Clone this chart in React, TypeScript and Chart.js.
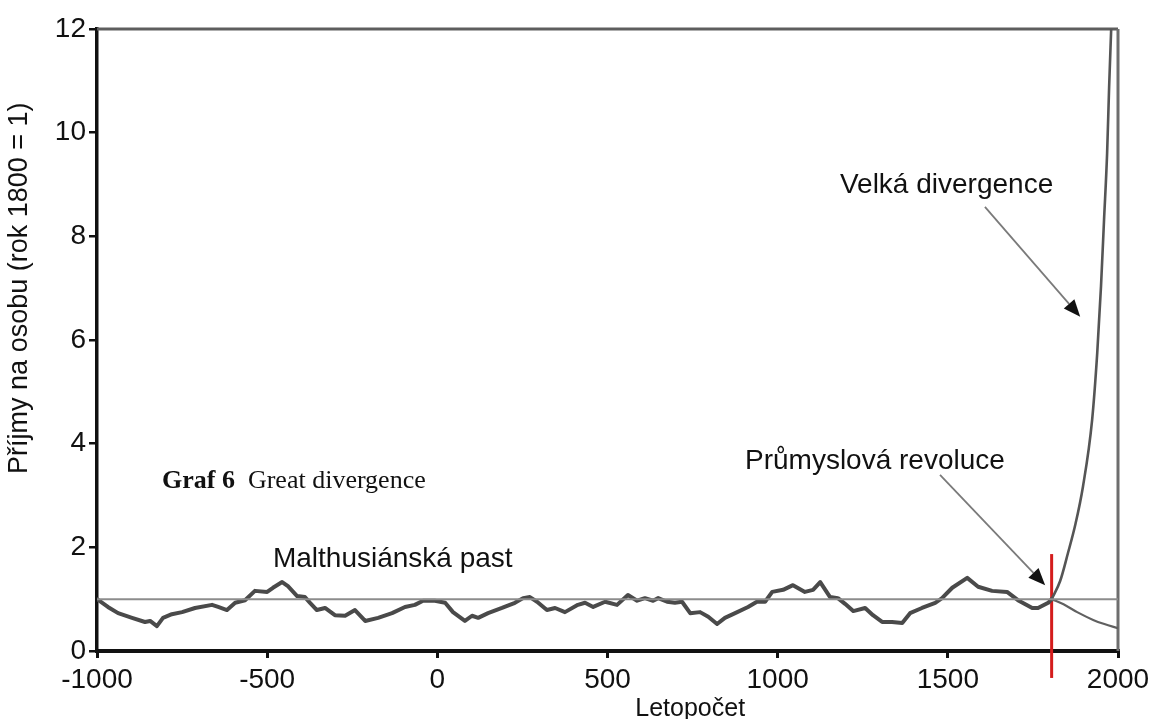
import { useEffect, useRef } from "react";
import { Chart, registerables } from "chart.js";

Chart.register(...registerables);

// ---- data ----
const mainYears = [
  -1000, -968, -938, -897, -859, -844, -824, -806, -780, -750, -712, -662, -644, -618, -594, -565,
  -536, -500, -483, -456, -439, -412, -389, -374, -354, -330, -301, -271, -242, -212, -174, -133,
  -95, -66, -42, -7, 23, 46, 81, 102, 120, 149, 190, 228, 252, 272, 293, 322, 346, 375, 413, 434,
  458, 493, 528, 560, 587, 610, 634, 649, 675, 698, 719, 743, 772, 796, 822, 845, 875, 913, 939,
  963, 984, 1016, 1045, 1080, 1104, 1125, 1154, 1177, 1198, 1222, 1257, 1280, 1307, 1336, 1366,
  1389, 1424, 1463, 1483, 1513, 1557, 1589, 1630, 1674, 1706, 1748, 1765, 1795, 1805,
];
const mainValues = [
  1.0, 0.85, 0.73, 0.64, 0.56, 0.58, 0.48, 0.64, 0.71, 0.75, 0.83, 0.89, 0.85, 0.79, 0.93, 0.98,
  1.16, 1.14, 1.22, 1.33, 1.25, 1.06, 1.04, 0.93, 0.79, 0.83, 0.69, 0.68, 0.79, 0.58, 0.64, 0.73,
  0.85, 0.89, 0.97, 0.97, 0.93, 0.75, 0.58, 0.68, 0.64, 0.73, 0.83, 0.93, 1.02, 1.04, 0.95, 0.79,
  0.83, 0.75, 0.89, 0.93, 0.85, 0.95, 0.89, 1.08, 0.97, 1.02, 0.97, 1.02, 0.95, 0.93, 0.95, 0.73,
  0.75, 0.66, 0.52, 0.64, 0.73, 0.85, 0.95, 0.95, 1.14, 1.18, 1.27, 1.14, 1.18, 1.33, 1.04, 1.02,
  0.91, 0.77, 0.83, 0.69, 0.56, 0.56, 0.54, 0.73, 0.83, 0.93, 1.02, 1.22, 1.41, 1.24, 1.16, 1.14,
  0.98, 0.83, 0.83, 0.93, 1.0,
];
const divergeYears = [1805, 1830, 1853, 1875, 1897, 1924, 1939, 1950, 1959, 1968, 1974, 1980];
const divergeValues = [1.0, 1.35, 1.89, 2.45, 3.17, 4.46, 5.75, 7.03, 8.32, 9.6, 10.9, 12.0];
const declineYears = [1805, 1840, 1880, 1927, 1960, 2000];
const declineValues = [1.0, 0.9, 0.75, 0.6, 0.52, 0.44];
const referenceYears = [-1000, 2000];
const referenceValues = [1, 1];
const revolutionYears = [1805, 1805];
const revolutionValues = [-0.52, 1.87];

const xMin = -1000;
const xMax = 2000;
const xStep = 500;
const yMin = 0;
const yMax = 12;
const yStep = 2;

const yTitle = "Příjmy na osobu (rok 1800 = 1)";
const xTitle = "Letopočet";
const labelDivergence = "Velká divergence";
const labelRevolution = "Průmyslová revoluce";
const labelTrap = "Malthusiánská past";
const captionBold = "Graf 6";
const captionText = "Great divergence";

const pts = (xs: number[], ys: number[]) => xs.map((x, i) => ({ x, y: ys[i] }));

const SANS = '"Liberation Sans", Arial, sans-serif';
const SERIF = '"Liberation Serif", "Times New Roman", serif';

function drawArrow(ctx: CanvasRenderingContext2D, x1: number, y1: number, x2: number, y2: number) {
  const ang = Math.atan2(y2 - y1, x2 - x1);
  const len = 17;
  const half = 7;
  const bx = x2 - len * Math.cos(ang);
  const by = y2 - len * Math.sin(ang);
  ctx.strokeStyle = "#7a7a7a";
  ctx.lineWidth = 1.8;
  ctx.beginPath();
  ctx.moveTo(x1, y1);
  ctx.lineTo(bx, by);
  ctx.stroke();
  ctx.fillStyle = "#111";
  ctx.beginPath();
  ctx.moveTo(x2, y2);
  ctx.lineTo(bx + half * Math.sin(ang), by - half * Math.cos(ang));
  ctx.lineTo(bx - half * Math.sin(ang), by + half * Math.cos(ang));
  ctx.closePath();
  ctx.fill();
}

const framePlugin = {
  id: "frame",
  beforeDatasetsDraw(chart: any) {
    const { ctx, chartArea: a } = chart;
    ctx.save();
    ctx.strokeStyle = "#5e5e5e";
    ctx.lineWidth = 3;
    ctx.beginPath();
    ctx.moveTo(a.left, a.top);
    ctx.lineTo(a.right, a.top);
    ctx.stroke();
    ctx.strokeStyle = "#6e6e6e";
    ctx.beginPath();
    ctx.moveTo(a.right, a.top);
    ctx.lineTo(a.right, a.bottom);
    ctx.stroke();
    ctx.restore();
  },
};

const notesPlugin = {
  id: "notes",
  afterDatasetsDraw(chart: any) {
    const { ctx } = chart;
    const x = chart.scales.x;
    const y = chart.scales.y;
    const px = (v: number) => x.getPixelForValue(v);
    const py = (v: number) => y.getPixelForValue(v);
    ctx.save();
    ctx.fillStyle = "#111";
    ctx.textBaseline = "alphabetic";
    ctx.textAlign = "left";
    ctx.font = `28px ${SANS}`;
    ctx.fillText(labelDivergence, px(1183), py(8.84));
    ctx.fillText(labelRevolution, px(904), py(3.51));
    ctx.fillText(labelTrap, px(-483), py(1.62));

    drawArrow(ctx, px(1609), py(8.57), px(1889), py(6.45));
    drawArrow(ctx, px(1477), py(3.4), px(1786), py(1.27));

    // caption
    ctx.fillStyle = "#111";
    ctx.font = `bold 26px ${SERIF}`;
    const cx = px(-809);
    const cy = py(3.15);
    ctx.fillText(captionBold, cx, cy);
    const w = ctx.measureText(captionBold + "  ").width;
    ctx.font = `26px ${SERIF}`;
    ctx.fillText(captionText, cx + w, cy);

    // x title
    ctx.font = `25px ${SANS}`;
    ctx.textAlign = "center";
    ctx.fillText(xTitle, px(743), py(-1.25));

    // y title
    ctx.translate(chart.chartArea.left - 77, py(7.0));
    ctx.rotate(-Math.PI / 2);
    ctx.textAlign = "center";
    ctx.textBaseline = "middle";
    ctx.font = `27px ${SANS}`;
    ctx.fillText(yTitle, 0, 0);
    ctx.restore();
  },
};

export default function App() {
  const ref = useRef<HTMLCanvasElement | null>(null);
  useEffect(() => {
    document.body.style.margin = "0";
    document.body.style.overflow = "hidden";
    if (!ref.current) return;
    const chart = new Chart(ref.current, {
      type: "line",
      data: {
        datasets: [
          {
            data: pts(referenceYears, referenceValues),
            borderColor: "#8c8c8c",
            borderWidth: 2,
            pointRadius: 0,
          },
          {
            data: pts(declineYears, declineValues),
            borderColor: "#606060",
            borderWidth: 2.2,
            pointRadius: 0,
            cubicInterpolationMode: "monotone",
          },
          {
            data: pts(divergeYears, divergeValues),
            borderColor: "#555",
            borderWidth: 2.6,
            pointRadius: 0,
            cubicInterpolationMode: "monotone",
          },
          {
            data: pts(mainYears, mainValues),
            borderColor: "#4a4a4a",
            borderWidth: 4,
            pointRadius: 0,
            tension: 0,
            borderJoinStyle: "round",
            borderCapStyle: "round",
          },
          {
            data: pts(revolutionYears, revolutionValues),
            borderColor: "#d41c1c",
            borderWidth: 3,
            pointRadius: 0,
            clip: false,
          },
        ] as any,
      },
      options: {
        animation: false,
        responsive: false,
        devicePixelRatio: 1,
        layout: { padding: { top: 29, right: 31, left: 0, bottom: 0 } },
        plugins: {
          legend: { display: false },
          tooltip: { enabled: false },
          title: { display: false },
        },
        scales: {
          x: {
            type: "linear",
            min: xMin,
            max: xMax,
            ticks: {
              stepSize: xStep,
              color: "#111",
              font: { family: SANS, size: 28 },
              padding: 5,
              maxRotation: 0,
              callback: (v: any) => String(v),
            },
            grid: {
              drawOnChartArea: false,
              drawTicks: true,
              tickLength: 7,
              color: "#111",
              lineWidth: 3,
            },
            border: { display: true, color: "#111", width: 4 },
            afterFit: (s: any) => {
              s.height = 68;
              s.paddingLeft = 0;
              s.paddingRight = 0;
            },
          },
          y: {
            type: "linear",
            min: yMin,
            max: yMax,
            ticks: {
              stepSize: yStep,
              color: "#111",
              font: { family: SANS, size: 28 },
              padding: 3,
              callback: (v: any) => String(v),
            },
            grid: {
              drawOnChartArea: false,
              drawTicks: true,
              tickLength: 8,
              color: "#111",
              lineWidth: 2.5,
            },
            border: { display: true, color: "#111", width: 3.5 },
            afterFit: (s: any) => {
              s.width = 97;
              s.paddingTop = 0;
              s.paddingBottom = 0;
            },
          },
        },
      } as any,
      plugins: [framePlugin, notesPlugin],
    });
    return () => chart.destroy();
  }, []);
  return (
    <div style={{ width: 1149, height: 719, background: "#fff" }}>
      <canvas ref={ref} width={1149} height={719} style={{ display: "block" }} />
    </div>
  );
}
